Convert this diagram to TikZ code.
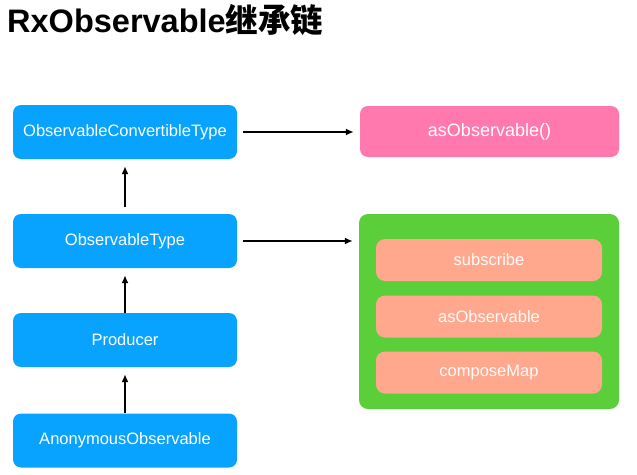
\documentclass[tikz,border=0pt]{standalone}
\usepackage{fontspec}
\setmainfont{Liberation Sans}
\newfontfamily\cjk{Noto Sans CJK SC}
\usetikzlibrary{arrows.meta}
\definecolor{bluebox}{HTML}{08A2FF}
\definecolor{pinkbox}{HTML}{FF78AE}
\definecolor{greenbox}{HTML}{5ACF3A}
\definecolor{salmonbox}{HTML}{FFA88E}
\tikzset{
  bluenode/.style={fill=bluebox, rounded corners=8pt, minimum width=224pt, minimum height=54pt,
    text=white, font=\fontsize{16.5}{18}\selectfont, inner sep=0pt},
  pinknode/.style={fill=pinkbox, rounded corners=8pt, minimum width=259pt, minimum height=51pt,
    text=white, font=\fontsize{18}{20}\selectfont, inner sep=0pt},
  greennode/.style={fill=greenbox, rounded corners=9pt, minimum width=260pt, minimum height=195pt, inner sep=0pt},
  salmonnode/.style={fill=salmonbox, rounded corners=9pt, minimum width=226pt, minimum height=42pt,
    text=white!96!salmonbox, font=\fontsize{16.5}{18}\selectfont, inner sep=0pt},
  arr/.style={-{Latex[length=8pt,width=7pt]}, line width=1.6pt, black}
}
\begin{document}
\begin{tikzpicture}[x=1pt,y=-1pt]
\useasboundingbox (0,0) rectangle (637,474);
\node[anchor=base west, inner sep=0pt, font=\fontsize{32.5}{36}\selectfont\bfseries] (title) at (7,32)
  {RxObservable{\cjk\bfseries 继承链}};
\node[bluenode] (b1) at (125,132) {ObservableConvertibleType};
\node[bluenode] (b2) at (125,241) {ObservableType};
\node[bluenode] (b3) at (125,340) {Producer};
\node[bluenode] (b4) at (125,440.5) {AnonymousObservable};
\node[pinknode] (pink) at (489.5,131.5) {asObservable()};
\node[greennode] (green) at (489,311.5) {};
\node[salmonnode] (s1) at (489,260) {subscribe};
\node[salmonnode] (s2) at (489,316.5) {asObservable};
\node[salmonnode] (s3) at (489,372.5) {composeMap};
\draw[arr, shorten <=7pt, shorten >=7pt] (b2.north) -- (b1.south);
\draw[arr, shorten >=7pt] (b3.north) -- (b2.south);
\draw[arr, shorten >=7pt] (b4.north) -- (b3.south);
\draw[arr, shorten <=6pt, shorten >=6pt] (b1.east) -- (b1.east -| pink.west);
\draw[arr, shorten <=6pt, shorten >=6pt] (b2.east) -- (b2.east -| green.west);
\end{tikzpicture}
\end{document}
